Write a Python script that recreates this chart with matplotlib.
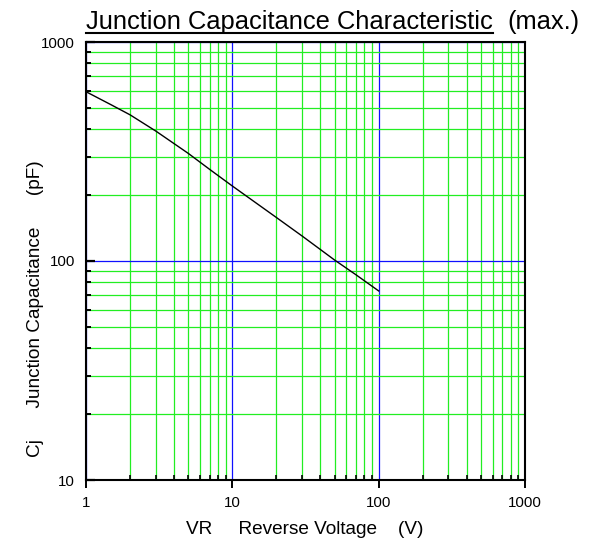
import matplotlib
matplotlib.use("Agg")
import matplotlib.pyplot as plt
from matplotlib.ticker import NullFormatter, LogLocator
from matplotlib.lines import Line2D

plt.rcParams['font.family'] = ['Liberation Sans', 'DejaVu Sans']

# Data
vr = [1, 1.5, 2, 3, 5, 7, 10, 20, 30, 50, 70, 100]                 # Reverse voltage (V)
cj = [593, 515, 465, 392, 310, 262, 220, 158, 130, 101, 86.5, 73]   # Junction capacitance (pF)

x_ticks = [1, 10, 100, 1000]
x_tick_labels = ["1", "10", "100", "1000"]
y_ticks = [10, 100, 1000]
y_tick_labels = ["10", "100", "1000"]

title_main = "Junction Capacitance Characteristic"
title_suffix = "(max.)"
x_label = "VR     Reverse Voltage    (V)"
y_label = "Cj      Junction Capacitance      (pF)"

W, H = 591, 540
fig = plt.figure(figsize=(W / 100, H / 100), dpi=100)
L, R, T, B = 86, 525, 42, 480
ax = fig.add_axes([L / W, 1 - B / H, (R - L) / W, (B - T) / H])

ax.set_xscale('log')
ax.set_yscale('log')
ax.set_xlim(1, 1000)
ax.set_ylim(10, 1000)

ax.plot(vr, cj, color='black', lw=1.0, zorder=3)

ax.set_axisbelow(True)
ax.xaxis.set_minor_locator(LogLocator(base=10, subs=range(2, 10)))
ax.yaxis.set_minor_locator(LogLocator(base=10, subs=range(2, 10)))
ax.grid(which='minor', color='#22ee22', lw=0.9)
ax.grid(which='major', color='#1010ff', lw=0.9)

ax.set_xticks(x_ticks)
ax.set_xticklabels(x_tick_labels)
ax.set_yticks(y_ticks)
ax.set_yticklabels(y_tick_labels)
ax.xaxis.set_minor_formatter(NullFormatter())
ax.yaxis.set_minor_formatter(NullFormatter())

px = 0.72
ax.tick_params(axis='x', which='major', direction='out', length=8 * px, width=1.4,
               pad=8 * px, labelsize=15 * px, colors='black')
ax.tick_params(axis='x', which='minor', direction='in', length=5 * px, width=1.2)
ax.tick_params(axis='y', which='major', direction='in', length=9 * px, width=1.6,
               pad=11 * px, labelsize=15 * px)
ax.tick_params(axis='y', which='minor', direction='in', length=5 * px, width=1.4)
ax.tick_params(top=False, right=False, which='both')

for s in ax.spines.values():
    s.set_linewidth(1.5)
    s.set_color('black')

# Axis labels
fig.text(305 / W, 1 - 529 / H, x_label, ha='center', va='center', fontsize=19 * px)
fig.text(36 / W, 1 - 309 / H, y_label, ha='center', va='center', rotation=90, fontsize=19 * px)

# Title with underline on the main part
t1 = fig.text(L / W, 1 - 29.5 / H, title_main, ha='left', va='baseline', fontsize=25.5 * px)
fig.canvas.draw()
bb = t1.get_window_extent()
x0, x1 = bb.x0 / W, bb.x1 / W
fig.add_artist(Line2D([x0, x1], [1 - 32.5 / H, 1 - 32.5 / H], transform=fig.transFigure,
                      color='black', lw=1.5))
fig.text(x1 + 15 / W, 1 - 29.5 / H, title_suffix, ha='left', va='baseline', fontsize=25.5 * px)

fig.savefig("out.png", dpi=100)
